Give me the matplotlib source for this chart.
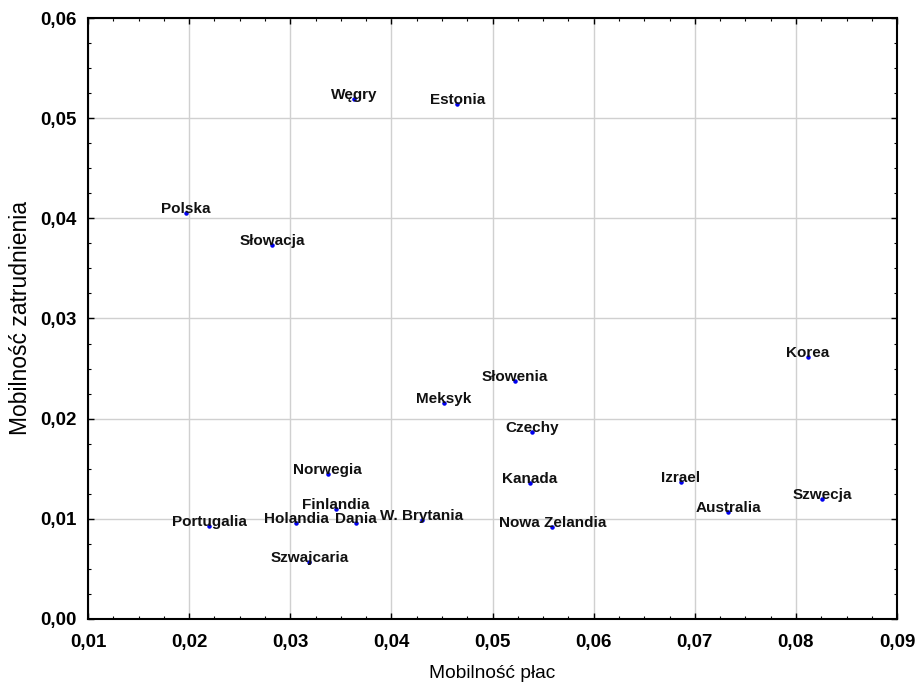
import matplotlib
matplotlib.use("Agg")
import matplotlib.pyplot as plt
from matplotlib.ticker import MultipleLocator, FuncFormatter

plt.rcParams['font.family'] = ['Liberation Sans', 'DejaVu Sans']

# data
countries = ['Węgry', 'Estonia', 'Polska', 'Słowacja', 'Korea', 'Słowenia', 'Meksyk',
             'Czechy', 'Norwegia', 'Kanada', 'Izrael', 'Szwecja', 'Australia',
             'Finlandia', 'Holandia', 'Dania', 'W. Brytania', 'Nowa Zelandia',
             'Portugalia', 'Szwajcaria']
wage_mobility = [0.0363, 0.0465, 0.0197, 0.0282, 0.0812, 0.0522, 0.0452,
                 0.0539, 0.0337, 0.0537, 0.0686, 0.0826, 0.0733,
                 0.0345, 0.0306, 0.0365, 0.0430, 0.0559,
                 0.0220, 0.0319]
employment_mobility = [0.0519, 0.0514, 0.0405, 0.0373, 0.0262, 0.0238, 0.0216,
                       0.0187, 0.0145, 0.0136, 0.0137, 0.0120, 0.0107,
                       0.0110, 0.0096, 0.0096, 0.0099, 0.0092,
                       0.0093, 0.0057]

fig = plt.figure(figsize=(9.22, 6.85), dpi=100)
ax = fig.add_axes([0.0954, 0.0964, 0.8776, 0.8773])

ax.scatter(wage_mobility, employment_mobility, s=5, color='#0000ee', zorder=3)
for name, x, y in zip(countries, wage_mobility, employment_mobility):
    ax.text(x, y, name, ha='center', va='baseline', fontsize=11,
            fontweight='bold', color='#111111', zorder=4)

ax.set_xlim(0.01, 0.09)
ax.set_ylim(0.0, 0.06)
ax.xaxis.set_major_locator(MultipleLocator(0.01))
ax.yaxis.set_major_locator(MultipleLocator(0.01))
ax.xaxis.set_minor_locator(MultipleLocator(0.0025))
ax.yaxis.set_minor_locator(MultipleLocator(0.0025))
fmt = FuncFormatter(lambda v, p: f"{v:.2f}".replace('.', ','))
ax.xaxis.set_major_formatter(fmt)
ax.yaxis.set_major_formatter(fmt)

ax.grid(True, which='major', color='#d0d0d0', linewidth=1.0)
ax.set_axisbelow(True)
ax.tick_params(which='both', direction='in', top=True, right=True, color='black')
ax.tick_params(which='major', length=4, width=1.0, labelsize=13.5)
ax.tick_params(axis='x', which='major', pad=11)
ax.tick_params(axis='y', which='major', pad=8)
ax.tick_params(which='minor', length=2, width=0.8)
for lab in ax.get_xticklabels() + ax.get_yticklabels():
    lab.set_fontweight('bold')
for sp in ax.spines.values():
    sp.set_linewidth(1.5)
    sp.set_color('black')

ax.set_xlabel('Mobilność płac', fontsize=13.8, labelpad=10)
ax.set_ylabel('Mobilność zatrudnienia', fontsize=16.5, labelpad=6)

fig.savefig('out.png', dpi=100)
